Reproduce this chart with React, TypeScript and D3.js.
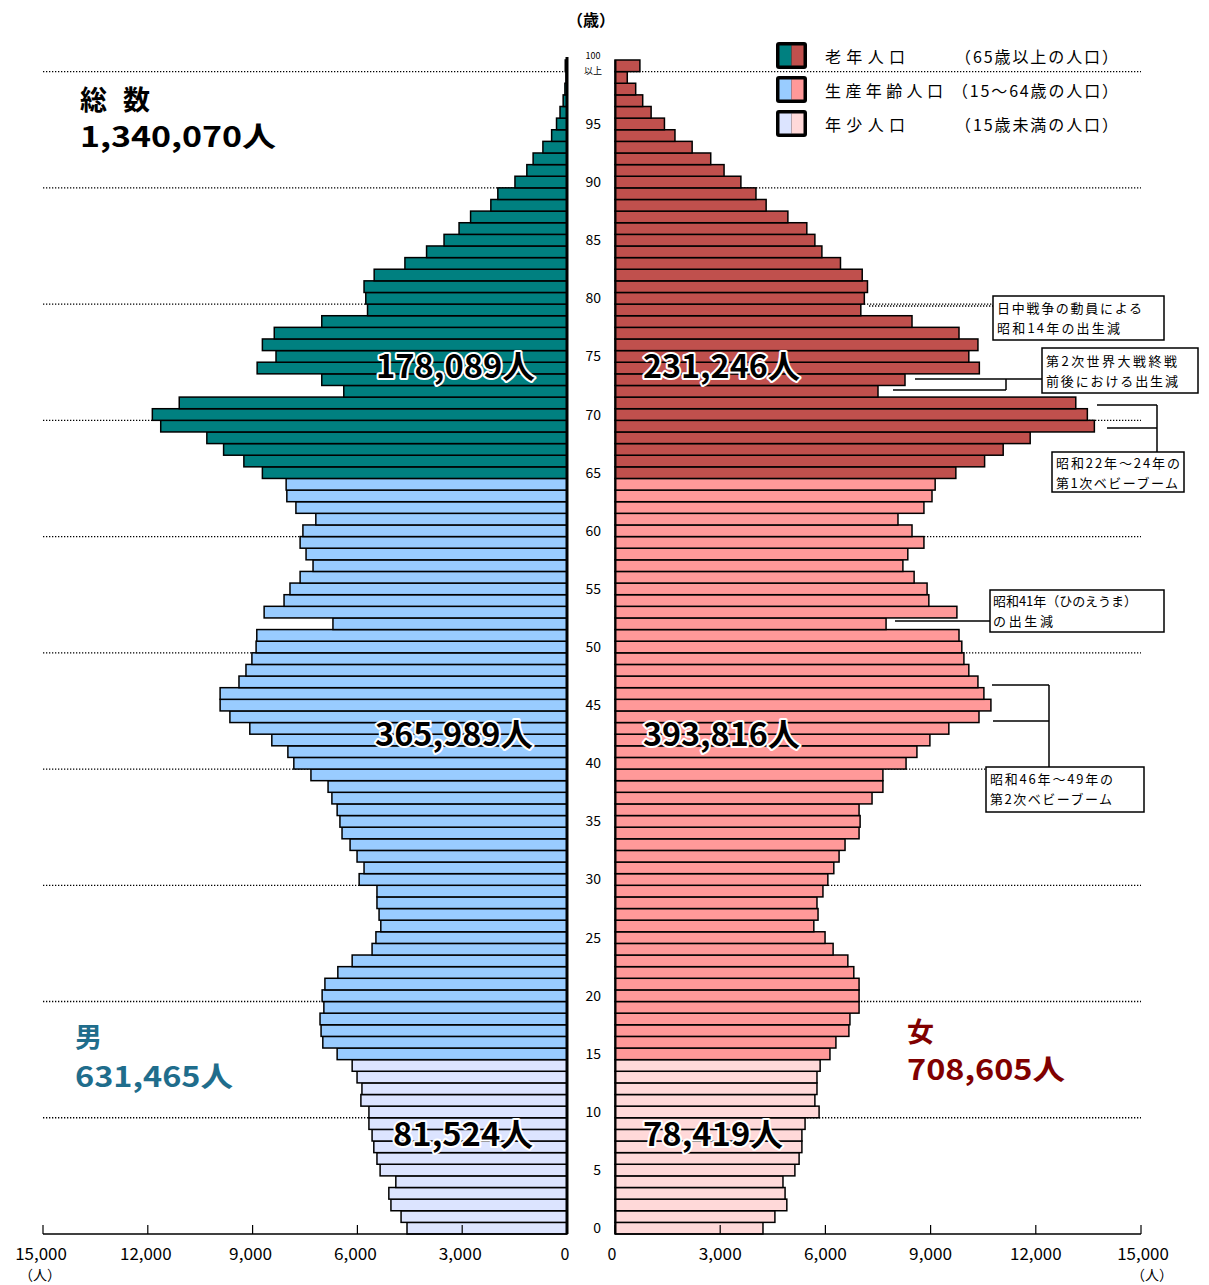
import React from 'react';
import * as d3 from 'd3';

// ---- data ----
const ages: number[] = d3.range(0, 101);

const maleValues = [
  4580, 4750, 5040, 5100, 4900, 5350, 5440, 5530, 5580, 5670,
  5670, 5900, 5870, 6010, 6150, 6580, 6990, 7040, 7070, 6960,
  7010, 6930, 6560, 6150, 5580, 5470, 5330, 5380, 5440, 5440,
  5950, 5810, 6010, 6210, 6440, 6500, 6580, 6730, 6840, 7330,
  7820, 7990, 8450, 9080, 9650, 9930, 9930, 9390, 9190, 9020,
  8900, 8880, 6700, 8670, 8100, 7930, 7640, 7270, 7470, 7640,
  7560, 7190, 7760, 8020, 8040, 8720, 9250, 9830, 10310, 11630,
  11870, 11100, 6390, 7020, 8870, 8330, 8720, 8380, 7020, 5710,
  5760, 5810, 5520, 4640, 4020, 3520, 3090, 2760, 2180, 1980,
  1490, 1150, 970, 690, 440, 300, 200, 110, 60, 30,
  50,
];

const femaleValues = [
  4220, 4560, 4900, 4850, 4790, 5130, 5250, 5330, 5330, 5420,
  5820, 5700, 5760, 5760, 5850, 6130, 6300, 6670, 6700, 6960,
  6960, 6960, 6810, 6640, 6220, 5990, 5670, 5790, 5760, 5930,
  6070, 6240, 6390, 6560, 6960, 6990, 6960, 7330, 7640, 7640,
  8300, 8610, 8980, 9520, 10380, 10720, 10520, 10350, 10090, 9950,
  9890, 9810, 7730, 9750, 8950, 8900, 8530, 8210, 8350, 8810,
  8470, 8070, 8810, 9040, 9130, 9720, 10540, 11070, 11840, 13670,
  13470, 13140, 7500, 8270, 10390, 10090, 10350, 9810, 8470, 7010,
  7110, 7200, 7050, 6430, 5900, 5700, 5470, 4930, 4310, 4020,
  3590, 3110, 2730, 2200, 1710, 1410, 1030, 790, 590, 350,
  710,
];

const ageTicks = [0, 5, 10, 15, 20, 25, 30, 35, 40, 45, 50, 55, 60, 65, 70, 75, 80, 85, 90, 95];
const gridAges = [10, 20, 30, 40, 50, 60, 70, 80, 90, 100];
const xTicks = [0, 3000, 6000, 9000, 12000, 15000];

// groups: young (0-14), productive (15-64), old (65+)
const groupNames = ['年少人口', '生産年齢人口', '老年人口'];
const groupNotes = ['（15歳未満の人口）', '（15～64歳の人口）', '（65歳以上の人口）'];
const maleGroupTotals = ['81,524人', '365,989人', '178,089人'];
const femaleGroupTotals = ['78,419人', '393,816人', '231,246人'];
const maleColors = ['#DCE4FF', '#99CCFF', '#008080'];
const femaleColors = ['#FFD9D9', '#FF9999', '#C0504D'];

const groupOf = (a: number) => (a < 15 ? 0 : a < 65 ? 1 : 2);

const FONT = '"Noto Sans CJK JP", "Noto Sans", sans-serif';

export default function App() {
  const y = d3.scaleBand<number>().domain(ages).range([1234, 60]).paddingInner(0).paddingOuter(0);
  const bw = y.bandwidth();
  const xL = d3.scaleLinear().domain([0, 15000]).range([567, 43]);
  const xR = d3.scaleLinear().domain([0, 15000]).range([615, 1141]);
  const axisY = 1234;

  const fmt = d3.format(',');
  const tickW = (s: string) => (s.length <= 1 ? undefined : s.length * 8.6);

  const bigLabel = (txt: string, x: number, yb: number, w: number, key: string) => (
    <text
      key={key}
      x={x}
      y={yb}
      fontFamily={FONT}
      fontWeight="bold"
      fontSize={32}
      textLength={w}
      lengthAdjust="spacingAndGlyphs"
      fill="#000"
      stroke="#fff"
      strokeWidth={4}
      strokeLinejoin="round"
      style={{ paintOrder: 'stroke' }}
    >
      {txt}
    </text>
  );

  const groupLabelY = [1146, 746, 378];
  const maleLabelX = [393, 375, 376];
  const maleLabelW = [140, 158, 159];
  const femaleLabelW = [140, 157, 157];

  const annoText = (lines: string[], x: number, y0: number, widths: number[], key: string) =>
    lines.map((l, i) => (
      <text
        key={key + i}
        x={x}
        y={y0 + i * 19.5}
        fontFamily={FONT}
        fontSize={13}
        textLength={widths[i]}
        lengthAdjust="spacing"
        fill="#000"
      >
        {l}
      </text>
    ));

  return (
    <svg
      width={1209}
      height={1285}
      style={{ position: 'absolute', left: 0, top: 0, background: '#fff' }}
    >
      <rect x={0} y={0} width={1209} height={1285} fill="#fff" />

      {/* dotted grid lines */}
      {gridAges.map((a) => {
        const yy = (y(a) as number) + bw;
        return (
          <g key={'g' + a}>
            <line x1={43} x2={567} y1={yy} y2={yy} stroke="#000" strokeWidth={1.3} strokeDasharray="1.3,1.7" />
            <line x1={615} x2={1141} y1={yy} y2={yy} stroke="#000" strokeWidth={1.3} strokeDasharray="1.3,1.7" />
          </g>
        );
      })}

      {/* male bars */}
      {ages.map((a, i) => (
        <rect
          key={'m' + a}
          x={xL(maleValues[i])}
          y={y(a)}
          width={567 - xL(maleValues[i])}
          height={bw}
          fill={maleColors[groupOf(a)]}
          stroke="#000"
          strokeWidth={1.5}
        />
      ))}
      {/* female bars */}
      {ages.map((a, i) => (
        <rect
          key={'f' + a}
          x={615}
          y={y(a)}
          width={xR(femaleValues[i]) - 615}
          height={bw}
          fill={femaleColors[groupOf(a)]}
          stroke="#000"
          strokeWidth={1.5}
        />
      ))}

      {/* center lines */}
      <line x1={567} x2={567} y1={57} y2={axisY} stroke="#000" strokeWidth={3} />
      <line x1={615.5} x2={615.5} y1={60} y2={axisY} stroke="#000" strokeWidth={2} />

      {/* bottom axes */}
      <line x1={43} x2={567} y1={axisY} y2={axisY} stroke="#000" strokeWidth={1.5} />
      <line x1={615} x2={1141} y1={axisY} y2={axisY} stroke="#000" strokeWidth={1.5} />
      {xTicks.map((t) => (
        <g key={'t' + t}>
          <line x1={xL(t)} x2={xL(t)} y1={axisY - 9} y2={axisY} stroke="#000" strokeWidth={1.2} />
          <line x1={xR(t)} x2={xR(t)} y1={axisY - 9} y2={axisY} stroke="#000" strokeWidth={1.2} />
          <text
            x={xL(t) - 2}
            y={1260}
            textAnchor="middle"
            fontFamily={FONT}
            fontSize={16}
            textLength={tickW(fmt(t))}
            lengthAdjust="spacingAndGlyphs"
          >
            {fmt(t)}
          </text>
          <text
            x={xR(t) + (t === 0 ? -3 : t === 15000 ? 2 : 0)}
            y={1260}
            textAnchor="middle"
            fontFamily={FONT}
            fontSize={16}
            textLength={tickW(fmt(t))}
            lengthAdjust="spacingAndGlyphs"
          >
            {fmt(t)}
          </text>
        </g>
      ))}
      <text x={40} y={1280} textAnchor="middle" fontFamily={FONT} fontSize={14}>（人）</text>
      <text x={1152} y={1280} textAnchor="middle" fontFamily={FONT} fontSize={14}>（人）</text>

      {/* age labels */}
      {ageTicks.map((a) => (
        <text
          key={'a' + a}
          x={601}
          y={(y(a) as number) + bw / 2 + 5}
          textAnchor="end"
          fontFamily={FONT}
          fontSize={14}
        >
          {a}
        </text>
      ))}
      <text x={593} y={59} textAnchor="middle" fontFamily={FONT} fontSize={9}>100</text>
      <text x={593} y={74} textAnchor="middle" fontFamily={FONT} fontSize={9}>以上</text>
      <text x={591} y={26} textAnchor="middle" fontFamily={FONT} fontSize={16} fontWeight="bold">（歳）</text>

      {/* legend */}
      {[2, 1, 0].map((g, i) => {
        const by = 42 + i * 34;
        return (
          <g key={'lg' + g}>
            <rect x={776} y={by} width={31} height={27} rx={3} fill="#000" />
            <rect x={779.5} y={by + 3.5} width={12} height={20} fill={maleColors[g]} />
            <rect x={791.5} y={by + 3.5} width={12} height={20} fill={femaleColors[g]} />
            <text
              x={825}
              y={by + 21}
              fontFamily={FONT}
              fontSize={16}
              textLength={groupNames[g].length === 4 ? 80 : 118}
              lengthAdjust="spacing"
            >
              {groupNames[g]}
            </text>
            <text
              x={g === 1 ? 952 : 955}
              y={by + 21}
              fontFamily={FONT}
              fontSize={16}
              textLength={g === 1 ? 166 : 163}
              lengthAdjust="spacing"
            >
              {groupNotes[g]}
            </text>
          </g>
        );
      })}

      {/* totals */}
      <text x={80} y={110} fontFamily={FONT} fontWeight="bold" fontSize={27} textLength={70} lengthAdjust="spacing">総数</text>
      <text x={80} y={147} fontFamily={FONT} fontWeight="bold" fontSize={28} textLength={196} lengthAdjust="spacingAndGlyphs">1,340,070人</text>
      <text x={75} y={1047} fontFamily={FONT} fontWeight="bold" fontSize={27} fill="#1F6D8C">男</text>
      <text x={75} y={1087} fontFamily={FONT} fontWeight="bold" fontSize={28} fill="#1F6D8C" textLength={158} lengthAdjust="spacingAndGlyphs">631,465人</text>
      <text x={907} y={1042} fontFamily={FONT} fontWeight="bold" fontSize={27} fill="#800000">女</text>
      <text x={907} y={1080} fontFamily={FONT} fontWeight="bold" fontSize={28} fill="#800000" textLength={158} lengthAdjust="spacingAndGlyphs">708,605人</text>

      {/* group totals */}
      {[0, 1, 2].map((g) =>
        bigLabel(maleGroupTotals[g], maleLabelX[g], groupLabelY[g], maleLabelW[g], 'mg' + g)
      )}
      {[0, 1, 2].map((g) =>
        bigLabel(femaleGroupTotals[g], 643, groupLabelY[g], femaleLabelW[g], 'fg' + g)
      )}

      {/* annotations */}
      <g stroke="#000" strokeWidth={1.5} fill="none">
        <line x1={869} x2={993} y1={306} y2={306} strokeDasharray="1.3,1.7" />
        <line x1={915} x2={1042} y1={379} y2={379} />
        <line x1={893} x2={1006} y1={390} y2={390} />
        <line x1={1006} x2={1006} y1={379} y2={390} />
        <line x1={1097} x2={1157} y1={405} y2={405} />
        <line x1={1107} x2={1157} y1={428} y2={428} />
        <line x1={1157} x2={1157} y1={405} y2={452} />
        <line x1={895} x2={990} y1={621} y2={621} />
        <line x1={992} x2={1049} y1={685} y2={685} />
        <line x1={993} x2={1049} y1={721} y2={721} />
        <line x1={1049} x2={1049} y1={685} y2={767} />
        <rect x={993} y={296} width={171} height={44} fill="#fff" />
        <rect x={1042} y={348} width={156} height={45} fill="#fff" />
        <rect x={1052} y={452} width={132} height={40} fill="#fff" />
        <rect x={990} y={590} width={174} height={42} fill="#fff" />
        <rect x={986} y={767} width={158} height={45} fill="#fff" />
      </g>
      {annoText(['日中戦争の動員による', '昭和14年の出生減'], 997, 313, [145, 123], 'a1')}
      {annoText(['第2次世界大戦終戦', '前後における出生減'], 1046, 366, [131, 132], 'a2')}
      {annoText(['昭和22年～24年の', '第1次ベビーブーム'], 1056, 468, [124, 122], 'a3')}
      {annoText(['昭和41年（ひのえうま）', 'の出生減'], 993, 606, [144, 60], 'a4')}
      {annoText(['昭和46年～49年の', '第2次ベビーブーム'], 990, 784, [123, 122], 'a5')}
    </svg>
  );
}
